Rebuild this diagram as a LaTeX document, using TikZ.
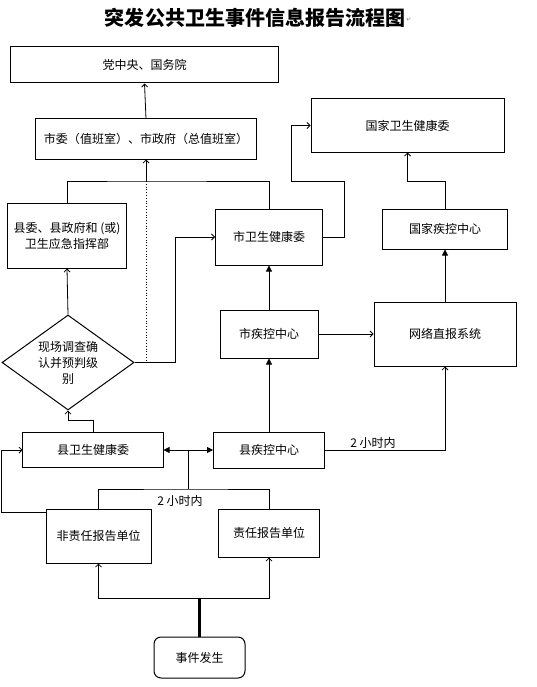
\documentclass[tikz,border=0pt]{standalone}
\usepackage{fontspec}
\newfontfamily\cjk{Noto Sans CJK SC}
\newfontfamily\symfont{DejaVu Sans}
\usetikzlibrary{arrows.meta,shapes.geometric,positioning}

\begin{document}
\begin{tikzpicture}[
            x=1bp, y=-1bp,
            every node/.style={ font=\cjk\fontsize{12bp}{16bp}\selectfont, inner sep=1bp },
            box/.style={ draw, line width=1bp, align=center },
            plain/.style={ line width=0.8bp },
            link/.style={ plain, -{Straight Barb[length=3bp,width=6bp]} },
            fill link/.style={ plain, -{Triangle[length=6bp,width=6bp]} }
        ]
        \useasboundingbox (0,0) rectangle (537,687);

        \node[font=\cjk\bfseries\fontsize{20bp}{24bp}\selectfont] (title) at (255,18) {突发公共卫生事件信息报告流程图};
        \node[right=-1bp of title, font=\symfont\fontsize{6bp}{6bp}\selectfont, text=gray, yshift=-2bp] (mark) {↵};

        \node[box, minimum width=267bp, minimum height=36bp] (top) at (144.5,65) {党中央、国务院};
        \node[box, minimum width=220bp, minimum height=40bp] (city) at (146,139) {市委（值班室）、市政府（总值班室）};
        \node[box, minimum width=193bp, minimum height=53bp] (nhc) at (407.5,125.5) {国家卫生健康委};
        \node[box, minimum width=118bp, minimum height=65bp] (county) at (67,235.5) {县委、县政府和 (或)\\卫生应急指挥部};
        \node[box, minimum width=107bp, minimum height=56bp] (chc) at (269,237) {市卫生健康委};
        \node[box, minimum width=125bp, minimum height=40bp] (ncdc) at (445,229) {国家疾控中心};
        \node[box, minimum width=98bp, minimum height=48bp] (ccdc) at (269,334) {市疾控中心};
        \node[box, minimum width=142bp, minimum height=64bp] (net) at (445,334) {网络直报系统};
        \node[box, diamond, aspect=1.39, minimum width=132bp, minimum height=95bp, inner sep=0pt] (check) at (68,362.5) {现场调查确\\认并预判级\\别};
        \node[box, minimum width=140bp, minimum height=35bp] (xhc) at (93,450) {县卫生健康委};
        \node[box, minimum width=111bp, minimum height=36bp] (xcdc) at (269,450) {县疾控中心};
        \node[box, minimum width=105bp, minimum height=54bp] (other) at (98.5,536) {非责任报告单位};
        \node[box, minimum width=101bp, minimum height=48bp] (duty) at (269,533) {责任报告单位};
        \node[box, rounded corners=7bp, minimum width=91bp, minimum height=41bp] (event) at (199.5,657.5) {事件发生};

        \coordinate (hub) at (city.south |- 0,181);
        \coordinate (turnA) at (344,181);
        \coordinate (turnB) at (291,181);
        \coordinate (turnC) at (175,362.5);
        \coordinate (split) at (188,489);
        \coordinate (fork) at (event.north |- 0,598);

        \draw[link] (city.north) -- (top.south);
        \draw[plain] (county.north) |- (hub) -| (chc.north);
        \draw[link] (hub) -- (city.south);
        \draw[plain, dotted] (hub) -- (hub |- check.east);
        \draw[link] (chc.east) -| (turnA) -- (turnB) |- (nhc.west);
        \draw[link] (ncdc.north) |- (nhc.south |- turnA) -- (nhc.south);
        \draw[fill link] (ccdc.north) -- (chc.south);
        \draw[link] (ccdc.east) -- (net.west);
        \draw[fill link] (net.north) -- (ncdc.south);
        \draw[link] (check.north) -- (county.south);
        \draw[link] (check.east) -- (turnC) |- (chc.west);
        \draw[link] (xhc.north) -- ++(0,-12) -| (check.south);
        \draw[fill link] (xcdc.north) -- (ccdc.south);
        \draw[link] (xcdc.east) -| node[above, pos=0.2] {2 小时内} (net.south);
        \draw[plain, {Triangle[length=6bp,width=6bp]}-{Triangle[length=6bp,width=6bp]}] (xhc.east) -- (xcdc.west);
        \draw[plain] (split) -- (split |- xcdc.west);
        \draw[plain] (other.north) |- (split) node[anchor=north, yshift=-5bp, xshift=-8bp] {2 小时内} -| (duty.north);
        \draw[link] ([yshift=24bp]other.west) -- ++(-44,0) |- (xhc.west);
        \draw[line width=2.4bp] (event.north) -- (fork);
        \draw[link] (fork) -| (other.south);
        \draw[link] (fork) -| (duty.south);
    \end{tikzpicture}
\end{document}
